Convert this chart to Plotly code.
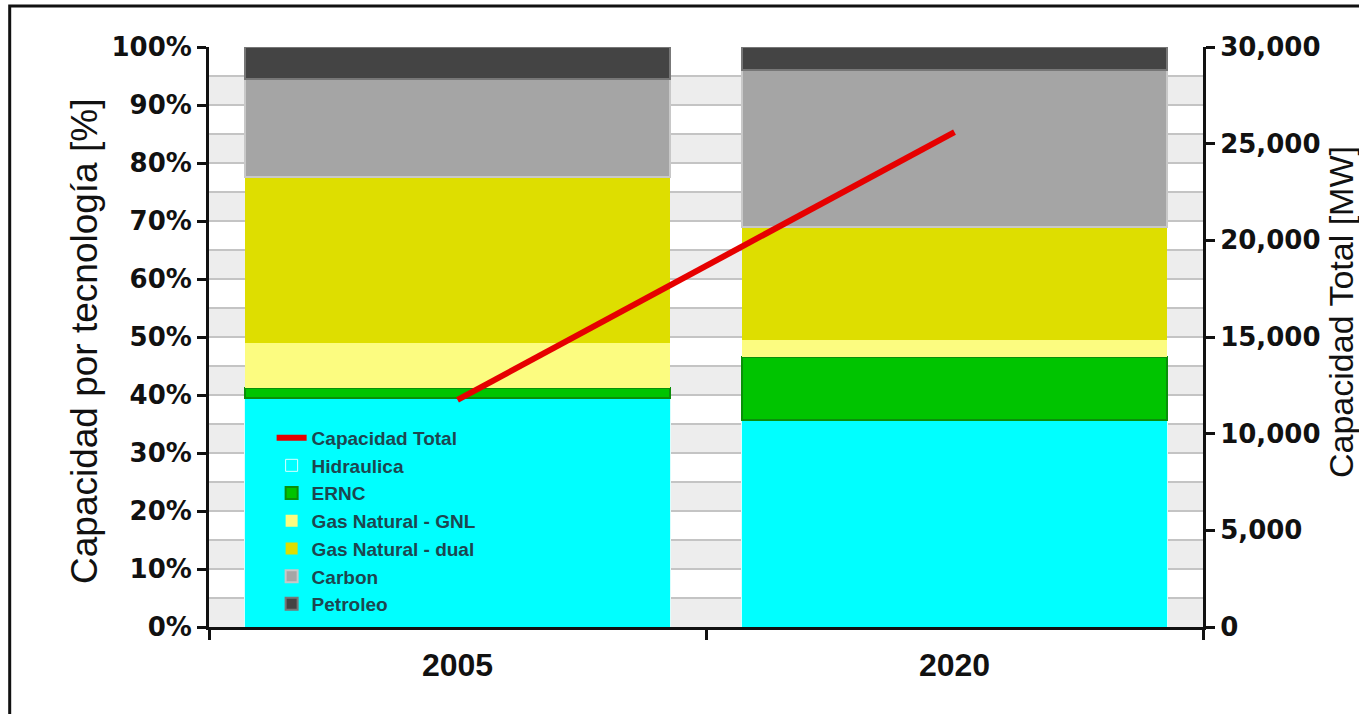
import plotly.graph_objects as go

# ---- data ----
years = ["2005", "2020"]
hidraulica = [39.4, 35.7]
ernc = [1.8, 10.9]
gas_gnl = [7.8, 2.9]
gas_dual = [28.6, 19.5]
carbon = [16.8, 27.0]
petroleo = [5.6, 4.0]
capacidad_total = [11750, 25600]

pct_ticks = list(range(0, 101, 10))
pct_labels = [f"{v}%" for v in pct_ticks]
mw_ticks = list(range(0, 30001, 5000))

series = [
    ("Hidraulica", hidraulica, "#00ffff", "#d8ffff", 1),
    ("ERNC", ernc, "#00c400", "#0a8f0a", 2),
    ("Gas Natural - GNL", gas_gnl, "#fcfc80", "#fcfc80", 0),
    ("Gas Natural - dual", gas_dual, "#dede00", "#dede00", 0),
    ("Carbon", carbon, "#a5a5a5", "#c8c8c8", 2),
    ("Petroleo", petroleo, "#444444", "#777777", 2),
]

fig = go.Figure()

fig.add_trace(go.Scatter(
    x=years, y=capacidad_total, name="Capacidad Total", mode="lines",
    line=dict(color="#e60000", width=6), yaxis="y2", legendgroup="g0",
))

for i, (name, vals, col, lcol, lw) in enumerate(series):
    fig.add_trace(go.Bar(
        x=years, y=vals, name=name, legendgroup=f"g{i+1}",
        marker=dict(color=col, line=dict(color=lcol, width=lw)),
    ))

# alternating background bands (every other 5% band)
shapes = []
for b in range(0, 100, 10):
    shapes.append(dict(type="rect", xref="paper", yref="y", x0=0, x1=1,
                       y0=b, y1=b + 5, fillcolor="#ededed", line=dict(width=0),
                       layer="below"))
# outer frame of the picture
shapes.append(dict(type="rect", xref="paper", yref="paper",
                   x0=-0.2005, x1=1.3, y0=-0.4, y1=1.0705,
                   line=dict(color="#111111", width=3), fillcolor="rgba(0,0,0,0)"))

tickfont = dict(family="DejaVu Sans", size=26, color="#111111", weight="bold")

fig.update_layout(
    width=1359, height=714,
    margin=dict(l=209, r=156, t=47, b=87),
    paper_bgcolor="white", plot_bgcolor="white",
    barmode="stack", bargap=0.143,
    showlegend=True,
    legend=dict(
        x=0.063, y=0.359, xanchor="left", yanchor="top",
        bgcolor="rgba(0,0,0,0)", traceorder="grouped", tracegroupgap=0,
        font=dict(family="Liberation Sans", size=19, color="#1d4650", weight="bold"),
    ),
    xaxis=dict(
        type="category", categoryorder="array", categoryarray=years,
        showline=True, linecolor="#111111", linewidth=3,
        ticks="outside", tickson="boundaries", ticklen=10, tickwidth=3, tickcolor="#111111",
        ticklabelstandoff=8,
        tickfont=dict(family="Liberation Sans Narrow, Liberation Sans", size=32,
                      color="#111111", weight="bold"),
        showgrid=False,
    ),
    yaxis=dict(
        range=[0, 100], tickvals=pct_ticks, ticktext=pct_labels,
        showline=True, linecolor="#111111", linewidth=3,
        ticks="outside", ticklen=9, tickwidth=3, tickcolor="#111111",
        tickfont=tickfont,
        showgrid=True, gridcolor="#c4c4c4", gridwidth=2,
        minor=dict(dtick=5, showgrid=True, gridcolor="#c4c4c4", gridwidth=2),
        zeroline=False,
    ),
    yaxis2=dict(
        range=[0, 30000], tickvals=mw_ticks, tickformat=",",
        overlaying="y", side="right",
        showline=True, linecolor="#111111", linewidth=3,
        ticks="outside", ticklen=9, tickwidth=3, tickcolor="#111111",
        tickfont=tickfont, showgrid=False, zeroline=False,
    ),
    shapes=shapes,
    annotations=[
        dict(text="Capacidad por tecnología [%]", textangle=-90,
             xref="paper", yref="paper", x=(84 - 209) / 994, y=(627 - 342) / 580,
             xanchor="center", yanchor="middle", showarrow=False,
             font=dict(family="Liberation Sans", size=37, color="#111111")),
        dict(text="Capacidad Total [MW]", textangle=-90,
             xref="paper", yref="paper", x=(1341 - 209) / 994, y=(627 - 312) / 580,
             xanchor="center", yanchor="middle", showarrow=False,
             font=dict(family="Liberation Sans", size=34, color="#111111")),
    ],
)

fig.write_html("out.html")
